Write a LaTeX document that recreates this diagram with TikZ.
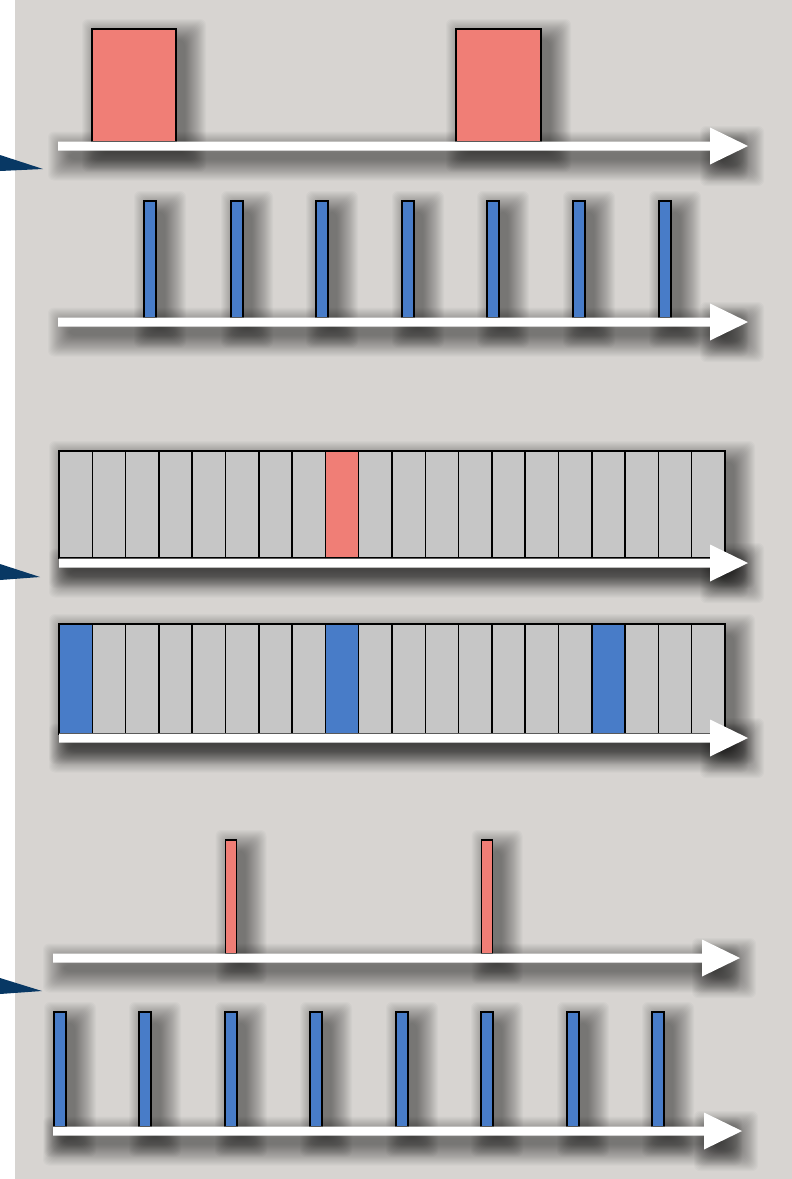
\documentclass[tikz,border=0pt]{standalone}
\definecolor{bgc}{RGB}{215,212,209}
\definecolor{redc}{RGB}{240,126,118}
\definecolor{bluec}{RGB}{72,124,200}
\definecolor{cellc}{RGB}{198,198,198}
\definecolor{navyc}{RGB}{8,56,100}
\tikzset{
  shadowlayer/.style={fill=black,opacity=0.022,rounded corners=6pt},
  boxline/.style={draw=black,line width=1.5pt},
  axisfill/.style={fill=white},
  pointerfill/.style={fill=navyc}
}
\newcommand\softshadow[4]{%
  \foreach \k in {0,...,21}{%
    \pgfmathsetmacro\s{20-\k}%
    \fill[shadowlayer] ({#1-\s+10},{#2-\s+10}) rectangle ({#3+\s+10},{#4+\s+10});
  }%
}
\newcommand\axisshadow[3]{%
  \softshadow{#1}{#3-4.5}{#2-30}{#3+4.5}%
  \softshadow{#2-38}{#3-10}{#2-14}{#3+10}%
}
\newcommand\axisarrow[3]{%
  \fill[axisfill] (#1,#3-4.5) -- (#2-38,#3-4.5) -- (#2-38,#3-18.5) -- (#2,#3)
    -- (#2-38,#3+18.5) -- (#2-38,#3+4.5) -- (#1,#3+4.5) -- cycle;
}
\begin{document}
\begin{tikzpicture}[x=1pt,y=-1pt]
\useasboundingbox (0,0) rectangle (792,1179);
\fill[bgc] (0,0) rectangle (792,1179);
\fill[white] (0,0) rectangle (15,1179);

% ---------- shadows ----------
% section 1
\softshadow{92}{29}{176}{142}
\softshadow{456}{29}{541}{142}
\axisshadow{58}{748}{146}
% section 2
\foreach \c in {150,237,322,408,493,579,665}{\softshadow{\c-6}{201}{\c+6}{318}}
\axisshadow{58}{748}{322}
% section 3
\softshadow{59}{451}{725}{558}
\axisshadow{59}{748}{563}
% section 4
\softshadow{59}{624}{725}{734}
\axisshadow{59}{748}{738}
% section 5
\foreach \c in {231,487}{\softshadow{\c-5.5}{840}{\c+5.5}{954}}
\axisshadow{53}{740}{958}
% section 6
\foreach \c in {60,145,231,316,402,487,573,658}{\softshadow{\c-6}{1012}{\c+6}{1127}}
\axisshadow{53}{742}{1131}

% ---------- section 1 ----------
\filldraw[boxline,fill=redc] (92,29) rectangle (176,142);
\filldraw[boxline,fill=redc] (456,29) rectangle (541,142);
\axisarrow{58}{748}{146}

% ---------- section 2 ----------
\foreach \c in {150,237,322,408,493,579,665}{
  \filldraw[boxline,fill=bluec] (\c-6,201) rectangle (\c+6,318);
}
\axisarrow{58}{748}{322}

% ---------- section 3 ----------
\foreach \j in {0,...,19}{
  \pgfmathsetmacro\xa{59+\j*33.3}
  \pgfmathsetmacro\xb{59+(\j+1)*33.3}
  \ifnum\j=8
    \filldraw[boxline,fill=redc] (\xa,451) rectangle (\xb,558);
  \else
    \filldraw[boxline,fill=cellc] (\xa,451) rectangle (\xb,558);
  \fi
}
\axisarrow{59}{748}{563}

% ---------- section 4 ----------
\foreach \j in {0,...,19}{
  \pgfmathsetmacro\xa{59+\j*33.3}
  \pgfmathsetmacro\xb{59+(\j+1)*33.3}
  \pgfmathtruncatemacro\isblue{(\j==0)||(\j==8)||(\j==16)}
  \ifnum\isblue=1
    \filldraw[boxline,fill=bluec] (\xa,624) rectangle (\xb,734);
  \else
    \filldraw[boxline,fill=cellc] (\xa,624) rectangle (\xb,734);
  \fi
}
\axisarrow{59}{748}{738}

% ---------- section 5 ----------
\foreach \c in {231,487}{
  \filldraw[boxline,fill=redc] (\c-5.5,840) rectangle (\c+5.5,954);
}
\axisarrow{53}{740}{958}

% ---------- section 6 ----------
\foreach \c in {60,145,231,316,402,487,573,658}{
  \filldraw[boxline,fill=bluec] (\c-6,1012) rectangle (\c+6,1127);
}
\axisarrow{53}{742}{1131}

% ---------- pointers ----------
\fill[pointerfill] (0,155) -- (43,169) -- (0,171) -- cycle;
\fill[pointerfill] (0,564) -- (40,577) -- (0,580) -- cycle;
\fill[pointerfill] (0,978) -- (42,991) -- (0,994) -- cycle;
\end{tikzpicture}
\end{document}
